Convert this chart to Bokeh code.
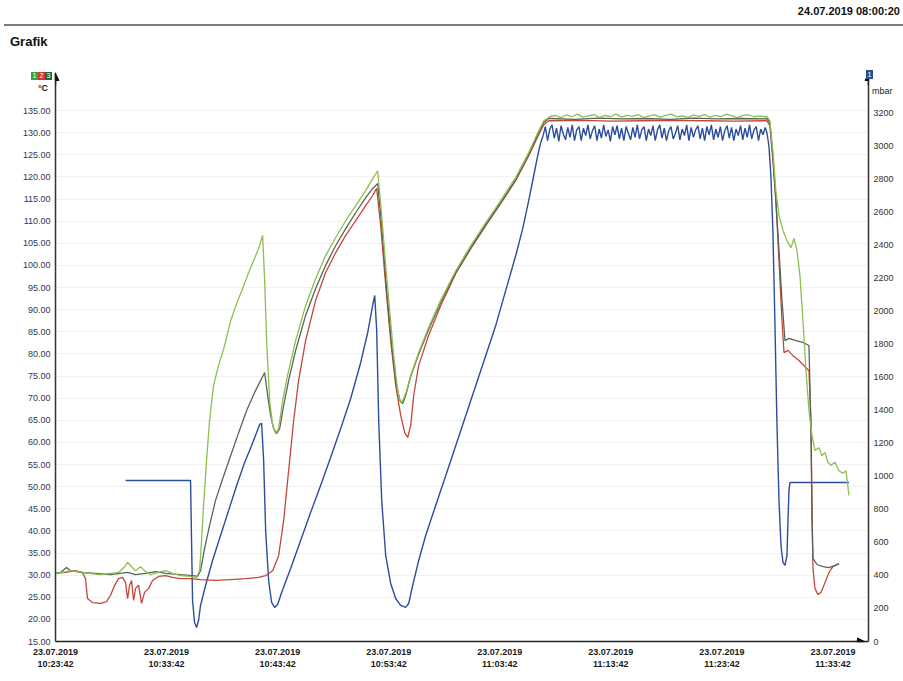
import numpy as np
from bokeh.plotting import figure
from bokeh.layouts import column
from bokeh.models import (Range1d, LinearAxis, FixedTicker, Arrow, NormalHead, Div,
                          NumeralTickFormatter)
from bokeh.embed import file_html
from bokeh.resources import INLINE

# time axis: minutes after 23.07.2019 10:23:42
x_ticks = [0, 10, 20, 30, 40, 50, 60, 70]
x_tick_labels = ["23.07.2019\n10:23:42", "23.07.2019\n10:33:42", "23.07.2019\n10:43:42",
                 "23.07.2019\n10:53:42", "23.07.2019\n11:03:42", "23.07.2019\n11:13:42",
                 "23.07.2019\n11:23:42", "23.07.2019\n11:33:42"]
temp_ticks = [15, 20, 25, 30, 35, 40, 45, 50, 55, 60, 65, 70, 75, 80, 85, 90, 95, 100,
              105, 110, 115, 120, 125, 130, 135]
press_ticks = [0, 200, 400, 600, 800, 1000, 1200, 1400, 1600, 1800, 2000, 2200, 2400,
               2600, 2800, 3000, 3200]

# ---- temperature 1 (light green), °C
t1_rise_t = [0, 0.63, 1.35, 2.07, 2.97, 4.05, 4.95, 5.68, 6.22, 6.49, 6.85, 7.21, 7.66, 8.11,
             8.56, 9.28, 9.91, 10.54, 11.26, 12.16, 12.7, 12.97, 13.15, 13.33, 13.6, 13.87,
             14.23, 14.68, 15.23, 15.77, 16.31, 16.85, 17.39, 17.93, 18.38, 18.65, 18.83,
             19.01, 19.28, 19.55, 19.82, 20.09, 20.45, 20.99, 21.62, 22.52, 23.42, 24.32,
             25.23, 26.13, 27.03, 27.93, 28.56, 29.01, 29.37, 29.73, 30.09, 30.45, 30.81,
             31.08, 31.35, 31.62, 31.98, 32.7, 33.6, 34.68, 36.04, 37.39, 38.74, 40.09,
             41.44, 42.61, 43.42, 43.96]
t1_rise_v = [30.4, 30.6, 31.0, 30.8, 30.4, 30.1, 30.4, 30.6, 31.9, 32.9, 31.9, 31.0, 31.9, 30.8,
             30.1, 30.6, 31.0, 30.4, 29.9, 29.7, 29.5, 31.0, 37.8, 45.7, 55.9, 64.9,
             72.9, 77.4, 81.9, 87.5, 91.4, 94.8, 98.4, 101.6, 104.5, 106.8, 96.6,
             83.0, 69.5, 63.8, 62.0, 63.1, 69.5, 76.2, 83.0, 90.9, 97.0, 102.2,
             106.3, 110.1, 113.5, 116.9, 119.6, 121.4, 111.3, 100.0, 89.8, 79.6, 71.7,
             69.0, 69.9, 71.7, 75.1, 80.3, 86.0, 92.1, 98.8, 104.5, 109.7, 114.7,
             119.9, 125.5, 130.0, 132.7]
t1_hold_v = [133.6, 133.9, 133.4, 134.0, 133.6, 134.2, 133.5, 133.8, 134.1, 133.4,
             133.9, 133.6, 134.2, 133.5, 133.9, 133.7, 134.1, 133.4, 133.8, 134.0,
             133.5, 133.9, 134.2, 133.6, 133.8, 133.4, 134.0, 133.7, 134.1, 133.5,
             133.9, 133.6, 134.2, 133.8, 133.4, 133.9, 134.0, 133.6, 133.8, 133.6]
t1_fall_t = [64.05, 64.32, 64.59, 64.86, 65.14, 65.5, 65.86, 66.22, 66.49, 66.76, 67.03, 67.3,
             67.57, 67.84, 68.11, 68.38, 68.74, 69.01, 69.28, 69.55, 69.82, 70.18, 70.54,
             70.9, 71.17, 71.44]
t1_fall_v = [133.6, 132.7, 126.0, 116.9, 111.3, 107.9, 105.6, 104.0, 106.1, 103.4, 97.7, 87.5,
             76.2, 67.2, 61.6, 58.2, 58.8, 57.0, 57.7, 55.5, 54.8, 55.5, 53.6,
             53.0, 53.6, 48.0]

# ---- temperature 2 (red), °C
t2_rise_t = [0, 0.9, 1.8, 2.43, 2.7, 2.88, 3.33, 4.05, 4.59, 4.95, 5.32, 5.68, 6.04, 6.31, 6.49,
             6.67, 6.85, 7.03, 7.21, 7.48, 7.75, 8.02, 8.38, 8.74, 9.28, 9.91, 10.54, 11.26,
             12.16, 13.06, 14.41, 15.77, 17.12, 18.29, 18.92, 19.55, 20.09, 20.54, 20.99,
             21.44, 21.89, 22.52, 23.42, 24.32, 25.23, 26.13, 27.03, 27.93, 28.56, 28.92,
             29.28, 29.73, 30.18, 30.63, 31.08, 31.44, 31.71, 31.98, 32.25, 32.7, 33.6,
             34.68, 36.04, 37.39, 38.74, 40.09, 41.44, 42.61, 43.42, 43.96, 44.41]
t2_rise_v = [30.4, 30.6, 31.0, 30.6, 29.2, 24.7, 23.8, 23.6, 24.0, 25.4, 27.7, 29.2, 29.5, 28.3,
             24.7, 27.7, 28.8, 24.3, 27.0, 27.7, 23.6, 26.1, 27.0, 28.8, 29.7, 29.9, 29.5,
             29.2, 29.2, 29.0, 28.8, 29.0, 29.2, 29.5, 29.9, 31.0, 34.4, 42.3, 53.6, 64.9,
             74.0, 83.0, 92.1, 98.4, 102.9, 106.8, 110.1, 113.5, 115.8, 117.4, 109.0, 95.5,
             83.0, 72.9, 66.1, 62.2, 61.1, 63.8, 70.6, 77.4, 84.2, 90.9, 98.2, 103.8, 109.0,
             114.0, 119.2, 124.8, 129.1, 131.8, 132.7]
t2_hold_v = [132.7, 132.8, 132.6, 132.7, 132.8, 132.7, 132.6, 132.7]
t2_fall_t = [64.05, 64.32, 64.59, 64.86, 65.14, 65.41, 65.59, 65.95, 66.4, 66.94, 67.48, 67.84,
             68.02, 68.11, 68.2, 68.38, 68.65, 68.92, 69.28, 69.64, 70.0, 70.54]
t2_fall_v = [132.7, 131.6, 123.7, 114.7, 101.1, 87.5, 80.3, 80.8, 79.6, 78.5, 77.1, 76.2,
             64.9, 46.9, 31.5, 27.0, 25.6, 26.1, 28.3, 30.6, 31.9, 32.6]

# ---- temperature 3 (dark), °C
t3_rise_t = [0, 0.45, 0.99, 1.35, 2.25, 3.6, 4.95, 5.86, 6.49, 7.21, 8.11, 9.01, 9.91, 11.26,
             12.34, 12.79, 13.06, 13.42, 13.87, 14.41, 15.05, 15.77, 16.49, 17.21, 17.93,
             18.47, 18.83, 19.1, 19.37, 19.64, 19.91, 20.18, 20.54, 20.99, 21.62, 22.52,
             23.42, 24.32, 25.23, 26.13, 27.03, 27.93, 28.56, 29.01, 29.37, 29.82, 30.27,
             30.63, 30.99, 31.26, 31.53, 31.98, 32.7, 33.6, 34.68, 36.04, 37.39, 38.74,
             40.09, 41.44, 42.61, 43.42, 43.96, 44.41]
t3_rise_v = [30.4, 30.6, 31.7, 31.0, 30.6, 30.4, 30.1, 30.4, 30.6, 30.1, 30.4, 30.8, 30.4, 30.1,
             29.9, 29.7, 31.0, 36.0, 41.2, 46.9, 51.8, 57.0, 62.2, 67.2, 71.3,
             74.0, 75.8, 70.6, 66.1, 63.1, 62.0, 63.1, 68.3, 74.0, 80.8, 88.7,
             94.8, 100.0, 104.5, 108.3, 111.9, 115.3, 117.4, 118.5, 109.0, 94.3, 81.9,
             74.0, 69.5, 68.8, 70.6, 74.9, 79.9, 85.5, 91.6, 98.4, 104.0, 109.2,
             114.2, 119.4, 125.1, 129.6, 132.3, 133.2]
t3_hold_v = [133.2, 133.0, 133.3, 133.1, 133.2, 133.0, 133.3, 133.1, 133.2, 133.1]
t3_fall_t = [64.05, 64.32, 64.59, 64.86, 65.14, 65.41, 65.68, 66.04, 66.67, 67.3, 67.84, 68.02,
             68.11, 68.2, 68.56, 69.1, 69.64, 70.18, 70.54]
t3_fall_v = [133.2, 132.3, 124.8, 114.7, 103.4, 92.1, 83.0, 83.5, 83.0, 82.6, 81.9, 62.7,
             42.3, 33.8, 32.4, 31.9, 31.7, 32.2, 32.6]

# ---- pressure (blue), mbar
p_rise_t = [6.31, 12.16, 12.25, 12.34, 12.52, 12.7, 12.88, 13.06, 13.51, 14.14, 14.86, 15.59,
            16.31, 17.03, 17.66, 18.11, 18.38, 18.56, 18.74, 18.92, 19.19, 19.46, 19.73, 20.0,
            20.36, 21.17, 22.07, 22.97, 23.87, 24.77, 25.68, 26.58, 27.48, 28.11, 28.56,
            28.74, 28.92, 29.1, 29.37, 29.73, 30.18, 30.63, 31.08, 31.53, 31.8, 32.16, 32.7,
            33.33, 34.23, 35.14, 36.04, 36.94, 37.84, 38.74, 39.64, 40.54, 41.44, 42.07,
            42.61, 43.06, 43.42, 43.69]
p_rise_v = [974, 974, 611, 248, 115, 85, 127, 218, 339, 490, 641, 793,
            944, 1083, 1186, 1264, 1313, 1319, 1095, 672, 369, 236, 206, 224,
            296, 442, 611, 780, 944, 1113, 1289, 1470, 1688, 1869, 2033,
            2093, 1882, 1337, 853, 520, 351, 260, 218, 206, 230, 339, 490,
            641, 823, 1004, 1186, 1367, 1549, 1730, 1912, 2124, 2335, 2499,
            2668, 2819, 2940, 3019]
p_hold_v = [3060, 3115, 3030, 3100, 3125, 3045, 3105, 3025, 3120, 3070,
            3035, 3110, 3050, 3125, 3030, 3095, 3115, 3030, 3105, 3060,
            3125, 3040, 3090, 3120, 3030, 3100, 3045, 3125, 3055, 3095,
            3025, 3115, 3065, 3120, 3040, 3105, 3030, 3115, 3075, 3035,
            3110, 3050, 3125, 3040, 3095, 3115, 3030, 3100, 3060, 3120,
            3030, 3095, 3125, 3045, 3105, 3030, 3090, 3115, 3040, 3075,
            3120, 3035, 3100, 3060, 3125, 3030, 3110, 3050, 3095, 3120,
            3040, 3105, 3030, 3115, 3065, 3125, 3035, 3100, 3050, 3115,
            3030, 3090, 3120, 3045, 3110, 3030, 3100, 3060, 3120, 3035,
            3105, 3050, 3125, 3040, 3095, 3115, 3030, 3100, 3065, 3110]
p_fall_t = [64.05, 64.23, 64.41, 64.59, 64.77, 64.95, 65.14, 65.32, 65.5, 65.68, 65.86, 65.95,
            66.04, 66.13, 71.44]
p_fall_v = [3079, 3001, 2819, 2487, 1942, 1337, 853, 581, 478, 460, 520, 732, 914, 962, 962]


def series(rise_t, rise_v, hold_v, hold_start, fall_t, fall_v):
    # holding phase: logger samples at even intervals
    assert len(rise_t) == len(rise_v) and len(fall_t) == len(fall_v)
    hold_t = list(np.linspace(hold_start, 63.9, len(hold_v)))
    return list(rise_t) + hold_t + list(fall_t), list(rise_v) + list(hold_v) + list(fall_v)


s1 = series(t1_rise_t, t1_rise_v, t1_hold_v, 44.5, t1_fall_t, t1_fall_v)
s2 = series(t2_rise_t, t2_rise_v, t2_hold_v, 44.6, t2_fall_t, t2_fall_v)
s3 = series(t3_rise_t, t3_rise_v, t3_hold_v, 44.6, t3_fall_t, t3_fall_v)
sp = series(p_rise_t, p_rise_v, p_hold_v, 43.9, p_fall_t, p_fall_v)

FONT = "Liberation Sans"
HEAD_H = 72

header_html = f"""
<div style="position:relative;width:903px;height:{HEAD_H}px;font-family:'Liberation Sans',Arial,sans-serif;color:#111;">
  <div style="position:absolute;right:3px;top:4px;font-size:11px;font-weight:bold;">24.07.2019 08:00:20</div>
  <div style="position:absolute;left:4px;top:24px;width:899px;height:2px;background:#7d7d7d;"></div>
  <div style="position:absolute;left:10px;top:33px;font-size:13px;font-weight:bold;">Grafik</div>
  <div style="position:absolute;left:31px;top:72px;width:7px;height:8px;background:#3aa040;color:#fff;font-size:7px;line-height:8px;text-align:center;">1</div>
  <div style="position:absolute;left:38px;top:72px;width:7px;height:8px;background:#d8322e;color:#fff;font-size:7px;line-height:8px;text-align:center;">2</div>
  <div style="position:absolute;left:45px;top:72px;width:7px;height:8px;background:#1f6b3c;color:#fff;font-size:7px;line-height:8px;text-align:center;">3</div>
  <div style="position:absolute;left:38px;top:82px;font-size:9px;font-weight:bold;color:#222;">°C</div>
  <div style="position:absolute;left:866px;top:70px;width:7px;height:9px;background:#2a4f8f;color:#fff;font-size:7px;line-height:9px;text-align:center;">1</div>
  <div style="position:absolute;left:872px;top:85px;font-size:9px;color:#222;">mbar</div>
</div>
"""
header = Div(text=header_html, width=903, height=HEAD_H, margin=0,
             styles={"overflow": "visible", "z-index": "2"})

p = figure(width=903, height=681 - HEAD_H, output_backend="svg", toolbar_location=None,
           x_range=Range1d(0, 73.2), y_range=Range1d(15, 143.6),
           min_border_left=55, min_border_right=35, min_border_top=0, min_border_bottom=40,
           background_fill_color="white", border_fill_color=None, margin=0)
p.outline_line_color = None
p.extra_y_ranges = {"press": Range1d(0, 3442)}

p.xgrid.grid_line_color = None
p.ygrid.grid_line_color = "#f1f1f1"
p.ygrid.ticker = FixedTicker(ticks=temp_ticks)

# bottom axis
xa = p.xaxis[0]
xa.ticker = FixedTicker(ticks=x_ticks)
xa.major_label_overrides = {t: l for t, l in zip(x_ticks, x_tick_labels)}
xa.axis_line_color = "#222222"
xa.axis_line_width = 1.5
xa.major_tick_line_color = None
xa.major_tick_out = 0
xa.major_tick_in = 0
xa.minor_tick_line_color = None
xa.major_label_text_font = FONT
xa.major_label_text_font_size = "9px"
xa.major_label_text_font_style = "bold"
xa.major_label_text_color = "#1a1a1a"
xa.major_label_standoff = 5

# left axis
ya = p.yaxis[0]
ya.ticker = FixedTicker(ticks=temp_ticks)
ya.formatter = NumeralTickFormatter(format="0.00")
ya.axis_line_color = "#333333"
ya.axis_line_width = 1.5
ya.major_tick_line_color = None
ya.major_tick_out = 0
ya.major_tick_in = 0
ya.minor_tick_line_color = None
ya.major_label_text_font = FONT
ya.major_label_text_font_size = "9px"
ya.major_label_text_color = "#2c3658"
ya.major_label_standoff = 5

# right axis
ra = LinearAxis(y_range_name="press", ticker=FixedTicker(ticks=press_ticks))
ra.axis_line_color = "#333333"
ra.axis_line_width = 1.5
ra.major_tick_line_color = None
ra.major_tick_out = 0
ra.major_tick_in = 0
ra.minor_tick_line_color = None
ra.major_label_text_font = FONT
ra.major_label_text_font_size = "9px"
ra.major_label_text_color = "#333333"
ra.major_label_standoff = 5
p.add_layout(ra, "right")

# series
p.line(sp[0], sp[1], y_range_name="press", line_color="#2c4d9c", line_width=1.4)
p.line(s2[0], s2[1], line_color="#c4463a", line_width=1.3)
p.line(s3[0], s3[1], line_color="#56645a", line_width=1.3)
p.line(s1[0], s1[1], line_color="#8dbf4e", line_width=1.3)

# arrow heads on axes
for (xs, ys, xe, ye) in [(0, 556, 0, 568), (813, 556, 813, 568), (800, 0, 809, 0)]:
    p.add_layout(Arrow(x_start=xs, y_start=ys, x_end=xe, y_end=ye,
                       start_units="screen", end_units="screen",
                       line_color="#111111", line_width=1.5,
                       end=NormalHead(size=7, fill_color="#111111", line_color="#111111")))

layout = column(header, p, spacing=0, margin=0)
open("out.html", "w").write(file_html(layout, INLINE))
